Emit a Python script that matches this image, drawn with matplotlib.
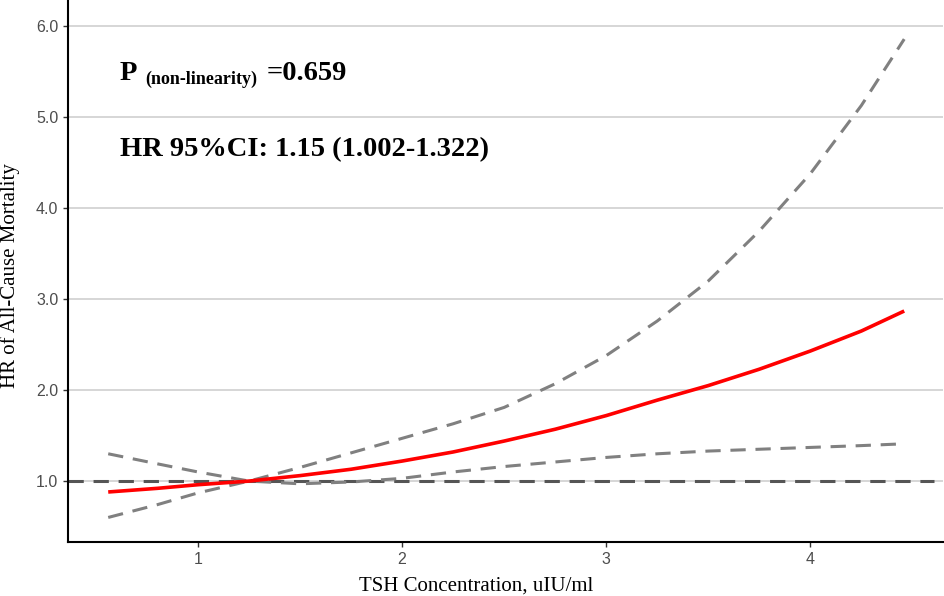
from matplotlib import pyplot as plt

# TSH grid and readings
tsh = [0.56, 0.8, 1.0, 1.25, 1.5, 1.75, 2.0, 2.25, 2.5, 2.75, 3.0, 3.25, 3.5, 3.75, 4.0, 4.25, 4.46]
hr = [0.88, 0.92, 0.96, 1.0, 1.06, 1.13, 1.22, 1.32, 1.44, 1.57, 1.72, 1.89, 2.05, 2.23, 2.43, 2.65, 2.87]
hr_upper = [0.60, 0.74, 0.87, 1.0, 1.15, 1.31, 1.47, 1.63, 1.81, 2.07, 2.38, 2.76, 3.20, 3.75, 4.38, 5.13, 5.86]
hr_lower = [1.30, 1.19, 1.10, 1.0, 0.97, 0.99, 1.03, 1.10, 1.16, 1.21, 1.26, 1.30, 1.33, 1.35, 1.37, 1.39, 1.41]

x_ticks = [1, 2, 3, 4]
y_ticks = [1, 2, 3, 4, 5, 6]
y_tick_labels = ["1.0", "2.0", "3.0", "4.0", "5.0", "6.0"]

W, H = 945, 596
fig = plt.figure(figsize=(W / 100, H / 100), dpi=100)
ax = fig.add_axes([68 / W, 54 / H, (943 - 68) / W, 1 - 54 / H])

ax.set_xlim(0.363, 4.65)
ax.set_ylim(0.33, 6.29)

for y in y_ticks:
    ax.axhline(y, color="#d3d3d3", lw=1.3, zorder=0)

ax.axhline(1, xmin=0, xmax=0.99, color="#555555", lw=2.2, dashes=(5, 3.2), zorder=2)
ax.plot(tsh, hr_upper, color="#808080", lw=2.2, dashes=(5, 3.2), zorder=3)
ax.plot(tsh, hr_lower, color="#808080", lw=2.2, dashes=(5, 3.2), zorder=3)
ax.plot(tsh, hr, color="#ff0000", lw=2.6, zorder=4, solid_capstyle="butt")

for s in ["top", "right"]:
    ax.spines[s].set_visible(False)
for s in ["left", "bottom"]:
    ax.spines[s].set_color("black")
    ax.spines[s].set_linewidth(1.5)

ax.set_xticks(x_ticks)
ax.set_yticks(y_ticks)
ax.set_yticklabels(y_tick_labels)
ax.tick_params(axis="both", length=3.6, width=1, color="#333333", labelcolor="#4d4d4d",
               labelsize=11.5, pad=3.4)
for lab in ax.get_xticklabels() + ax.get_yticklabels():
    lab.set_family("Liberation Sans")

serif = "Liberation Serif"
fig.text(476 / W, 1 - 591 / H, "TSH Concentration, uIU/ml", family=serif, fontsize=15,
         ha="center", va="baseline")
fig.text(10 / W, 1 - 276 / H, "HR of All-Cause Mortality", family=serif, fontsize=15,
         rotation=90, ha="center", va="center")

fig.text(120 / W, 1 - 80 / H, "P", family=serif, fontsize=20.5, weight="bold", va="baseline")
fig.text(145 / W, 1 - 84 / H, "(non-linearity)", family=serif, fontsize=13, weight="bold",
         va="baseline")
fig.text(267 / W, 1 - 80 / H, "=0.659", family=serif, fontsize=20.5, weight="bold",
         va="baseline")
fig.text(120 / W, 1 - 156 / H, "HR 95%CI: 1.15 (1.002-1.322)", family=serif, fontsize=20.5,
         weight="bold", va="baseline")

fig.savefig("out.png", dpi=100)
